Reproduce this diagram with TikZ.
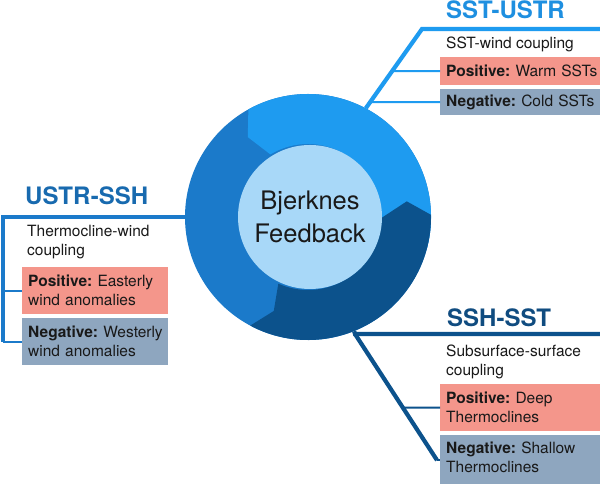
\documentclass[tikz,border=0pt]{standalone}
\usepackage{fontspec}
\setmainfont{TeX Gyre Heros}
\usetikzlibrary{calc}
\definecolor{segLight}{RGB}{30,155,240}
\definecolor{segMid}{RGB}{27,122,202}
\definecolor{segDark}{RGB}{12,82,140}
\definecolor{hubFill}{RGB}{168,216,248}
\definecolor{titleA}{RGB}{30,143,224}
\definecolor{titleB}{RGB}{24,106,175}
\definecolor{titleC}{RGB}{16,76,128}
\definecolor{posFill}{RGB}{244,150,139}
\definecolor{negFill}{RGB}{142,166,191}
\definecolor{txt}{RGB}{25,25,25}
\frenchspacing
\begin{document}
\begin{tikzpicture}[x=1pt,y=1pt,
  bodyfont/.style={font=\fontsize{15.5pt}{19pt}\selectfont},
  ttl/.style={font=\fontsize{24pt}{28pt}\selectfont\bfseries, anchor=base west, inner sep=0pt},
  desc/.style={bodyfont, text=txt, anchor=north west, inner sep=0pt, align=left},
  infobox/.style={bodyfont, text=txt, anchor=north west, inner xsep=6pt, inner ysep=0pt, align=left},
  widebox/.style={infobox, text width=148pt},
  narrowbox/.style={infobox, text width=134pt},
  thickline/.style={line width=4.2pt},
  thinline/.style={line width=2pt},
]
\useasboundingbox (0,0) rectangle (600,484);
\fill[white] (0,0) rectangle (600,484);

% ring
\node[circle, minimum size=246pt, inner sep=0pt] (ring) at (308,267) {};
\fill[segMid] (ring.center) circle[radius=123pt];
\fill[segLight] ($(ring.center)+(-15:123pt)$) arc[start angle=-15, end angle=119, radius=123pt]
  -- ($(ring.center)+(127:100pt)$) -- ($(ring.center)+(121:73pt)$)
  arc[start angle=121, end angle=-15, radius=73pt] -- cycle;
\fill[segDark] ($(ring.center)+(242:123pt)$) arc[start angle=242, end angle=361, radius=123pt]
  -- ($(ring.center)+(9:100pt)$) -- ($(ring.center)+(359:73pt)$)
  arc[start angle=359, end angle=246, radius=73pt]
  -- ($(ring.center)+(250:100pt)$) -- cycle;
\node[circle, fill=hubFill, minimum size=144pt, inner sep=0pt, align=center, text=txt,
  font=\fontsize{25.5pt}{33.5pt}\selectfont] (hub) at (310,267) {Bjerknes\\Feedback};

% top-right group
\node[ttl, text=titleA] (tA) at (446,465) {SST-USTR};
\node[desc, anchor=base west] (dA) at (446,435) {SST-wind coupling};
\node[widebox, fill=posFill, minimum height=28pt] (trPos) at (440,427) {\mbox{\textbf{Positive:} Warm SSTs}};
\node[widebox, fill=negFill, minimum height=26pt] (trNeg) at (440,395) {\mbox{\textbf{Negative:} Cold SSTs}\rule[-1.5pt]{0pt}{0pt}};

% left group
\node[ttl, text=titleB] (tB) at (25,279) {USTR-SSH};
\node[desc] (dB) at (27,258.5) {\mbox{Thermocline-wind}\\\mbox{coupling}};
\node[narrowbox, fill=posFill, minimum height=47pt] (lfPos) at (22,217) {\mbox{\textbf{Positive:} Easterly}\\\mbox{wind anomalies}};
\node[narrowbox, fill=negFill, minimum height=47pt] (lfNeg) at (22,166) {\mbox{\textbf{Negative:} Westerly}\\\mbox{wind anomalies}};

% bottom-right group
\node[ttl, text=titleC] (tC) at (447,157) {SSH-SST};
\node[desc] (dC) at (446,139.5) {\mbox{Subsurface-surface}\\\mbox{coupling}};
\node[widebox, fill=posFill, minimum height=47pt] (brPos) at (440,100) {\mbox{\textbf{Positive:} Deep}\\\mbox{Thermoclines}};
\node[widebox, fill=negFill, minimum height=50pt] (brNeg) at (440,49) {\mbox{\textbf{Negative:} Shallow}\\\mbox{Thermoclines}\rule[-6pt]{0pt}{6pt}};

% connectors: top-right
\coordinate (trS) at (ring.62);
\coordinate (trK) at (422,455);
\coordinate (trE) at (600,455);
\draw[thickline, segLight] (trS) -- (trK) -- (trE);
\draw[thinline, segLight] (intersection of trS--trK and trPos.west--trPos.east) -- (trPos.west);
\draw[thinline, segLight] (intersection of trS--trK and trNeg.west--trNeg.east) -- (trNeg.west);

% connectors: left
\coordinate (lfS) at (ring.180);
\coordinate (lfK) at (3,267);
\draw[thickline, segMid] (lfS) -- (lfK) -- (lfK |- lfNeg.west);
\draw[thinline, segMid] (lfK |- lfPos.west) -- (lfPos.west);
\draw[thinline, segMid] (lfK |- lfNeg.west) -- (lfNeg.west);

% connectors: bottom-right
\coordinate (brS) at (ring.-68);
\coordinate (brK) at (355,150);
\coordinate (brE) at (600,150);
\coordinate (brD) at ($(brNeg.west)+(-3,0)$);
\draw[thickline, segDark] (brS) -- (brK) -- (brE);
\draw[thickline, segDark] (brK) -- (brD);
\draw[thinline, segDark] (brD) -- (brNeg.west);
\draw[thinline, segDark] (intersection of brK--brD and brPos.west--brPos.east) -- (brPos.west);
\end{tikzpicture}
\end{document}
